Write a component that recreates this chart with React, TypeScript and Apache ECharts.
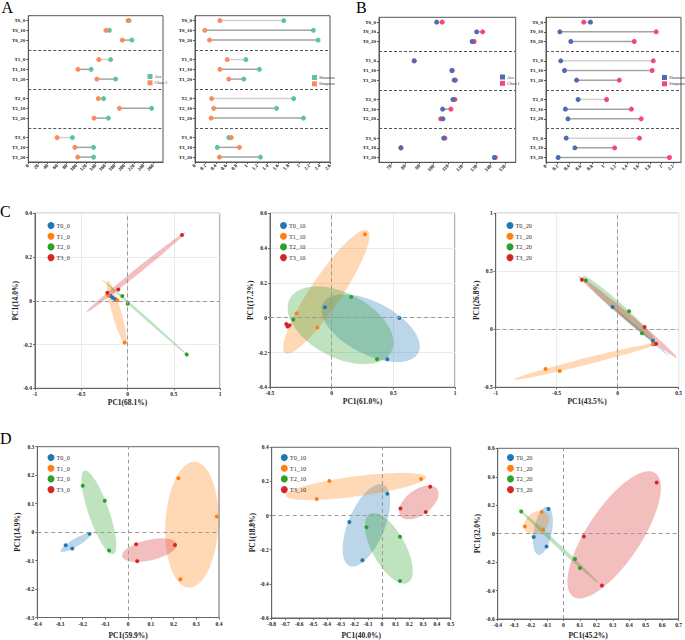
import React, { useEffect, useRef } from "react";
import * as echarts from "echarts";

const FONT = "Liberation Serif";

// ---------- Panels A / B : alpha diversity ----------
const sampleRows = ["T0_0", "T0_10", "T0_20", "T1_0", "T1_10", "T1_20", "T2_0", "T2_10", "T2_20", "T3_0", "T3_10", "T3_20"];

const aceA = [210, 169, 216, 171.5, 131, 182, 157, 257, 167, 92, 136, 136];
const chao1A = [208, 162, 196, 147, 103.5, 143, 146, 190, 137, 60, 97, 103];
const shannonA = [1.71, 2.28, 2.37, 0.98, 1.24, 0.94, 1.9, 1.57, 2.09, 0.65, 0.43, 1.26];
const simpsonA = [0.48, 0.19, 0.28, 0.62, 0.48, 0.65, 0.32, 0.36, 0.31, 0.7, 0.855, 0.47];

const aceB = [102.1, 130.2, 127.0, 86.3, 112.8, 114.4, 113.5, 106.3, 106.5, 107.0, 77.0, 142.6];
const chao1B = [106.0, 134.4, 128.4, 86.3, 113.0, 115.3, 114.9, 112.1, 104.9, 107.9, 77.0, 143.3];
const shannonB = [0.77, 0.24, 0.43, 0.255, 0.32, 0.53, 0.556, 0.336, 0.38, 0.35, 0.5, 0.21];
const simpsonB = [0.654, 1.91, 1.53, 1.86, 1.84, 1.27, 1.05, 1.48, 1.65, 1.62, 1.19, 2.14];

const ticksA1 = [0, 20, 40, 60, 80, 100, 120, 140, 160, 180, 200, 220, 240, 260];
const ticksA2 = [0, 0.2, 0.4, 0.6, 0.8, 1, 1.2, 1.4, 1.6, 1.8, 2, 2.2, 2.4, 2.6];
const ticksB1 = [70, 80, 90, 100, 110, 120, 130, 140, 150];
const ticksB2 = [0, 0.2, 0.4, 0.6, 0.8, 1, 1.2, 1.4, 1.6, 1.8, 2, 2.2];

// ---------- Panels C / D : PCA ----------
const groupNames = ["T0", "T1", "T2", "T3"];

const pcaC1 = [
  [[-0.182, 0.022], [-0.16, 0.014], [-0.131, 0.007]],
  [[-0.207, 0.024], [-0.11, 0.003], [-0.031, -0.191]],
  [[-0.056, 0.022], [0.002, -0.013], [0.64, -0.245]],
  [[-0.218, 0.037], [-0.099, 0.052], [0.589, 0.301]],
];
const pcaC2 = [
  [[-0.054, 0.06], [0.549, -0.002], [0.451, -0.239]],
  [[0.27, 0.479], [-0.284, 0.025], [-0.116, -0.057]],
  [[0.159, 0.119], [-0.311, -0.011], [0.368, -0.239]],
  [[-0.368, -0.036], [-0.358, -0.05], [-0.342, -0.044]],
];
const pcaC3 = [
  [[-0.041, 0.193], [0.289, -0.098], [0.3, -0.128]],
  [[-0.591, -0.342], [-0.475, -0.359], [0.289, -0.129]],
  [[-0.261, 0.42], [0.094, 0.155], [0.2, -0.034]],
  [[-0.293, 0.428], [0.221, 0.02], [0.316, -0.124]],
];
const pcaD1 = [
  [[-0.275, -0.046], [-0.246, -0.058], [-0.17, -0.006]],
  [[0.221, 0.189], [0.39, 0.055], [0.23, -0.166]],
  [[-0.2, 0.163], [-0.103, 0.11], [-0.084, -0.065]],
  [[0.035, -0.043], [0.04, -0.102], [0.206, -0.045]],
];
const pcaD2 = [
  [[-0.236, -0.037], [-0.141, -0.262], [0.04, 0.128]],
  [[-0.381, 0.202], [-0.473, 0.097], [0.285, 0.214]],
  [[-0.112, -0.068], [0.132, -0.124], [0.132, -0.383]],
  [[0.135, 0.041], [0.319, 0.021], [0.351, 0.169]],
];
const pcaD3 = [
  [[-0.181, -0.024], [-0.103, -0.09], [-0.091, 0.174]],
  [[-0.235, 0.05], [-0.133, 0.153], [-0.123, 0.029]],
  [[-0.257, 0.155], [0.07, -0.178], [0.1, -0.241]],
  [[0.124, -0.02], [0.234, -0.365], [0.567, 0.36]],
];

const pcaXNames = ["PC1(68.1%)", "PC1(61.0%)", "PC1(43.5%)", "PC1(59.9%)", "PC1(40.0%)", "PC1(45.2%)"];
const pcaYNames = ["PC1(14.0%)", "PC1(17.2%)", "PC1(26.8%)", "PC1(14.9%)", "PC1(18.8%)", "PC1(32.0%)"];
const pcaSuffix = ["0", "10", "20", "0", "10", "20"];

const PCA_COLORS = ["#1f77b4", "#ff7f0e", "#2ca02c", "#d62728"];
const ELLIPSE_K = 1.51;

function ellipsePoints(pts: number[][], k: number, n = 90) {
  const m = pts.length;
  const mx = pts.reduce((s, p) => s + p[0], 0) / m;
  const my = pts.reduce((s, p) => s + p[1], 0) / m;
  let sxx = 0, syy = 0, sxy = 0;
  pts.forEach((p) => {
    sxx += (p[0] - mx) * (p[0] - mx);
    syy += (p[1] - my) * (p[1] - my);
    sxy += (p[0] - mx) * (p[1] - my);
  });
  sxx /= m; syy /= m; sxy /= m;
  const a = Math.sqrt(sxx);
  const b = a > 0 ? sxy / a : 0;
  const c = Math.sqrt(Math.max(syy - b * b, 0));
  const out: number[][] = [];
  for (let i = 0; i < n; i++) {
    const t = (i / n) * Math.PI * 2;
    const u = Math.cos(t), v = Math.sin(t);
    out.push([mx + k * a * u, my + k * (b * u + c * v)]);
  }
  return { pts: out, mx, my };
}

export default function App() {
  const ref = useRef<HTMLDivElement>(null);
  useEffect(() => {
    document.body.style.margin = "0";
    if (!ref.current) return;
    const chart = echarts.init(ref.current, undefined, { renderer: "svg" });

    const grids: any[] = [];
    const xAxes: any[] = [];
    const yAxes: any[] = [];
    const series: any[] = [];
    const legends: any[] = [];

    const cats: string[] = [];
    const rowPos: number[] = [];
    sampleRows.forEach((r, i) => {
      if (i > 0 && i % 3 === 0) cats.push("sep" + i);
      rowPos.push(cats.length);
      cats.push(r);
    });
    const sepPos = cats.map((c, i) => (c.startsWith("sep") ? i : -1)).filter((i) => i >= 0);

    const dumbbell = (p: any) => {
      const gi = grids.length;
      grids.push({ left: p.left, top: p.top, width: p.width, height: p.height, show: true, borderColor: "#555", borderWidth: 1 });
      xAxes.push({
        gridIndex: gi, type: "value", min: p.min, max: p.max,
        axisLine: { show: true, lineStyle: { color: "#555" } },
        axisTick: { show: true, length: 2, customValues: p.ticks, lineStyle: { color: "#555" } },
        axisLabel: { customValues: p.ticks, rotate: 45, fontSize: 5, fontFamily: FONT, fontWeight: "bold", color: "#222", margin: 3 },
        splitLine: { show: false },
      });
      yAxes.push({
        gridIndex: gi, type: "category", data: cats, inverse: true,
        axisLine: { show: true, lineStyle: { color: "#555" } },
        axisTick: { show: true, length: 2, alignWithLabel: true, interval: (_i: number, v: string) => !v.startsWith("sep"), lineStyle: { color: "#555" } },
        axisLabel: { interval: 0, fontSize: 5, fontFamily: FONT, fontWeight: "bold", color: "#222", margin: 3, formatter: (v: string) => (v.startsWith("sep") ? "" : v) },
        splitLine: { show: false },
      });
      series.push({
        type: "custom", xAxisIndex: gi, yAxisIndex: gi, silent: true, z: 2,
        data: sampleRows.map((_, i) => [rowPos[i], p.v1[i], p.v2[i], i % 3]),
        encode: { x: [1, 2], y: 0 },
        renderItem: (_params: any, api: any) => {
          const y = api.value(0);
          const a = api.coord([api.value(1), y]);
          const b = api.coord([api.value(2), y]);
          return {
            type: "line",
            shape: { x1: a[0], y1: a[1], x2: b[0], y2: b[1] },
            style: { stroke: api.value(3) === 0 ? "#d2d2d2" : "#a3a3a3", lineWidth: 1.5 },
          };
        },
      });
      const order = p.firstOnTop ? [1, 0] : [0, 1];
      order.forEach((k, oi) => {
        const vals = k === 0 ? p.v1 : p.v2;
        series.push({
          type: "scatter", name: p.names[k] + "@" + gi, xAxisIndex: gi, yAxisIndex: gi,
          symbolSize: 5, z: 3 + oi,
          itemStyle: { color: p.colors[k], opacity: 1 },
          data: vals.map((v: number, i: number) => [v, rowPos[i]]),
          markLine: oi === 0 ? {
            silent: true, symbol: ["none", "none"], label: { show: false },
            lineStyle: { type: [3, 2], color: "#555", width: 1 },
            data: sepPos.map((s) => ({ yAxis: s })),
          } : undefined,
        });
      });
      legends.push({
        left: p.legLeft, top: p.legTop, orient: "vertical", icon: "rect",
        itemWidth: 5, itemHeight: 5, itemGap: 1.3, selectedMode: false,
        textStyle: { fontSize: 4.5, fontFamily: FONT, color: "#333", padding: [0, 0, 0, -3] },
        formatter: (n: string) => n.split("@")[0],
        data: [p.names[0] + "@" + gi, p.names[1] + "@" + gi],
      });
    };

    dumbbell({ left: 28.3, top: 15.7, width: 134.7, height: 146.3, min: 0, max: 280.8, ticks: ticksA1, v1: aceA, v2: chao1A, names: ["Ace", "Chao 1"], colors: ["#5ec4a0", "#fc8a5e"], legLeft: 142.5, legTop: 69 });
    dumbbell({ left: 195, top: 15.7, width: 135, height: 146.3, min: 0, max: 2.6, ticks: ticksA2, v1: shannonA, v2: simpsonA, names: ["Shannon", "Simpson"], colors: ["#5ec4a0", "#fc8a5e"], legLeft: 307, legTop: 70 });
    dumbbell({ left: 379, top: 17.3, width: 136.7, height: 145, min: 61.6, max: 157.6, ticks: ticksB1, v1: aceB, v2: chao1B, names: ["Ace", "Chao 1"], colors: ["#4f6cb1", "#f5467f"], firstOnTop: true, legLeft: 495, legTop: 69.5 });
    dumbbell({ left: 546, top: 17.3, width: 135, height: 145, min: 0, max: 2.34, ticks: ticksB2, v1: shannonB, v2: simpsonB, names: ["Shannon", "Simpson"], colors: ["#4f6cb1", "#f5467f"], firstOnTop: true, legLeft: 657, legTop: 70 });

    const pca = (p: any, idx: number) => {
      const gi = grids.length;
      grids.push({ left: p.left, top: p.top, width: p.width, height: p.height, show: true, borderColor: "#666", borderWidth: 1 });
      const axisCommon = {
        axisLine: { show: true, onZero: false, lineStyle: { color: "#666" } },
        axisTick: { show: true, length: 2, lineStyle: { color: "#666" } },
        axisLabel: { fontSize: 5.5, fontFamily: FONT, fontWeight: "bold", color: "#222", margin: 3 },
        splitLine: { show: !!p.grid, lineStyle: { color: "#ebebeb", width: 1 } },
        nameLocation: "middle",
        nameTextStyle: { fontSize: 7.5, fontFamily: FONT, fontWeight: "bold", color: "#222" },
      };
      xAxes.push({ ...axisCommon, gridIndex: gi, type: "value", min: p.xr[0], max: p.xr[1], interval: p.xr[2], name: pcaXNames[idx], nameGap: p.xGap });
      yAxes.push({ ...axisCommon, gridIndex: gi, type: "value", min: p.yr[0], max: p.yr[1], interval: p.yr[2], name: pcaYNames[idx], nameGap: p.yGap });
      const shapes = p.data.map((g: number[][]) => ellipsePoints(g, ELLIPSE_K));
      series.push({
        type: "custom", xAxisIndex: gi, yAxisIndex: gi, silent: true, z: 1, clip: true,
        data: shapes.map((s: any, i: number) => [s.mx, s.my, i]),
        encode: { x: 0, y: 1 },
        renderItem: (_params: any, api: any) => {
          const i = api.value(2);
          const pts = shapes[i].pts.map((q: number[]) => api.coord(q));
          return { type: "polygon", shape: { points: pts }, style: { fill: PCA_COLORS[i], opacity: 0.3 } };
        },
      });
      const names: string[] = [];
      p.data.forEach((g: number[][], i: number) => {
        const nm = groupNames[i] + "_" + pcaSuffix[idx] + "@" + gi;
        names.push(nm);
        series.push({
          type: "scatter", name: nm, xAxisIndex: gi, yAxisIndex: gi, symbolSize: 4, z: 3,
          itemStyle: { color: PCA_COLORS[i], opacity: 1 },
          data: g,
          markLine: i === 0 ? {
            silent: true, symbol: ["none", "none"], label: { show: false },
            lineStyle: { type: [4, 3], color: "#9a9a9a", width: 1 },
            data: [{ xAxis: 0 }, { yAxis: 0 }],
          } : undefined,
        });
      });
      legends.push({
        left: p.legLeft, top: p.legTop, orient: "vertical", icon: "circle",
        itemWidth: 7, itemHeight: 7, itemGap: 3.7, selectedMode: false,
        textStyle: { fontSize: 6.3, fontFamily: FONT, color: "#333", padding: [0, 0, 0, -3] },
        formatter: (n: string) => n.split("@")[0],
        data: names,
      });
    };

    pca({ left: 35, top: 213.3, width: 185, height: 175, xr: [-1, 1, 0.5], yr: [-0.4, 0.4, 0.2], data: pcaC1, grid: true, xGap: 8, yGap: 9.5, legLeft: 42.5, legTop: 217 }, 0);
    pca({ left: 270, top: 213.3, width: 185, height: 174, xr: [-0.5, 1, 0.5], yr: [-0.4, 0.6, 0.2], data: pcaC2, grid: true, xGap: 10.5, yGap: 13.5, legLeft: 275, legTop: 217 }, 1);
    pca({ left: 495.7, top: 213.3, width: 184.6, height: 174, xr: [-1, 0.5, 0.5], yr: [-0.5, 1, 0.5], data: pcaC3, grid: true, xGap: 10.5, yGap: 14, legLeft: 501.5, legTop: 217 }, 2);
    pca({ left: 37.3, top: 446.7, width: 181.7, height: 171.6, xr: [-0.4, 0.4, 0.1], yr: [-0.3, 0.3, 0.1], data: pcaD1, grid: false, xGap: 13.5, yGap: 11.8, legLeft: 42.5, legTop: 449 }, 3);
    pca({ left: 271.7, top: 447.3, width: 179, height: 171.7, xr: [-0.8, 0.5, 0.1], yr: [-0.6, 0.4, 0.2], data: pcaD2, grid: false, xGap: 13, yGap: 15, legLeft: 275.8, legTop: 449 }, 4);
    pca({ left: 497.7, top: 448.3, width: 184, height: 171.7, xr: [-0.4, 0.7, 0.1], yr: [-0.6, 0.6, 0.2], data: pcaD3, grid: false, xGap: 12, yGap: 16, legLeft: 502, legTop: 449 }, 5);

    const letter = (t: string, x: number, y: number) => ({
      type: "text", x, y, silent: true,
      style: { text: t, fontSize: 16, fontFamily: FONT, fill: "#000", verticalAlign: "top" },
    });

    chart.setOption({
      animation: false,
      backgroundColor: "#fff",
      textStyle: { fontFamily: FONT },
      grid: grids,
      xAxis: xAxes,
      yAxis: yAxes,
      legend: legends,
      series,
      graphic: [letter("A", 1.5, -0.5), letter("B", 356, -0.5), letter("C", 0, 203), letter("D", 0, 430)],
    });
    return () => chart.dispose();
  }, []);
  return <div ref={ref} style={{ position: "absolute", left: 0, top: 0, width: 685, height: 640 }} />;
}
